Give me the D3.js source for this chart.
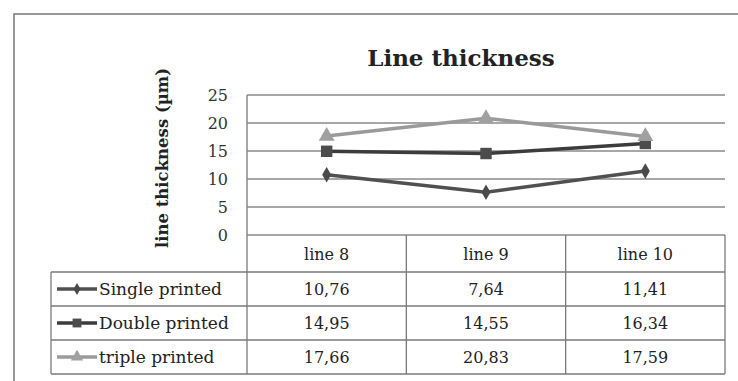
<!DOCTYPE html>
<html>
<head>
<meta charset="utf-8">
<script src="https://cdn.jsdelivr.net/npm/d3@7"></script>
<style>
  body { margin: 0; background: #fff; }
  svg { display: block; }
</style>
</head>
<body>
<svg width="738" height="381"></svg>
<script>
// line thickness chart with data table underneath
const categories = ["line 8", "line 9", "line 10"];
const seriesNames = ["Single printed", "Double printed", "triple printed"];
const singlePrinted = [10.76, 7.64, 11.41];
const doublePrinted = [14.95, 14.55, 16.34];
const triplePrinted = [17.66, 20.83, 17.59];
const yTicks = [0, 5, 10, 15, 20, 25];

const seriesValues = [singlePrinted, doublePrinted, triplePrinted];
const colors = ['#505050', '#3c3c3c', '#9a9a9a'];
const markerColors = ['#4a4a4a', '#4c4c4c', '#a0a0a0'];
const symbols = [d3.symbolDiamond, d3.symbolSquare, d3.symbolTriangle];
const symSizes = [70, 130, 110];

const font = "'DejaVu Serif', serif";
const svg = d3.select('svg');

// outer frame
svg.append('path')
    .attr('d', 'M14,381 V14 H738')
    .attr('fill', 'none')
    .attr('stroke', '#777')
    .attr('stroke-width', 1.5);

const plotL = 247, plotR = 725, plotT = 95, plotB = 235;
const rowH = 34, headH = 37, tableLeft = 51;

const x = d3.scaleBand().domain(categories).range([plotL, plotR]);
const y = d3.scaleLinear().domain([0, 25]).range([plotB, plotT]);

// title
svg.append('text')
    .attr('x', 461).attr('y', 66)
    .attr('text-anchor', 'middle')
    .attr('font-family', font)
    .attr('font-weight', 'bold')
    .attr('font-size', 23)
    .attr('fill', '#222')
    .text('Line thickness');

// y axis title
svg.append('text')
    .attr('transform', 'translate(168,158) rotate(-90)')
    .attr('text-anchor', 'middle')
    .attr('font-family', font)
    .attr('font-weight', 'bold')
    .attr('font-size', 16.5)
    .attr('fill', '#222')
    .text('line thickness (\u00b5m)');

// gridlines + tick labels
const yAxis = d3.axisLeft(y).tickValues(yTicks).tickSize(0).tickPadding(19);
const gy = svg.append('g')
    .attr('transform', `translate(${plotL},0)`)
    .call(yAxis);
gy.select('.domain').remove();
gy.selectAll('text')
    .attr('font-family', font)
    .attr('font-size', 16)
    .attr('fill', '#333');

svg.append('g').selectAll('line')
    .data(yTicks)
    .enter().append('line')
    .attr('x1', plotL).attr('x2', plotR)
    .attr('y1', d => y(d)).attr('y2', d => y(d))
    .attr('stroke', '#8a8a8a')
    .attr('stroke-width', 1.5);

svg.append('line')
    .attr('x1', plotL).attr('x2', plotL)
    .attr('y1', plotT).attr('y2', plotB)
    .attr('stroke', '#8a8a8a')
    .attr('stroke-width', 1.5);

// lines and markers
const line = d3.line()
    .x((d, i) => x(categories[i]) + x.bandwidth() / 2)
    .y(d => y(d));

seriesValues.forEach((vals, s) => {
    svg.append('path')
        .datum(vals)
        .attr('d', line)
        .attr('fill', 'none')
        .attr('stroke', colors[s])
        .attr('stroke-width', 3.5);
    svg.append('g').selectAll('path')
        .data(vals)
        .enter().append('path')
        .attr('d', d3.symbol().type(symbols[s]).size(symSizes[s]))
        .attr('transform', (d, i) => `translate(${x(categories[i]) + x.bandwidth() / 2},${y(d)})`)
        .attr('fill', markerColors[s]);
});

// data table
const tableBottom = plotB + headH + rowH * seriesNames.length;
const tg = svg.append('g');
const tStroke = '#7a7a7a';

// vertical lines
categories.forEach(c => {
    tg.append('line')
        .attr('x1', x(c)).attr('x2', x(c))
        .attr('y1', plotB).attr('y2', tableBottom)
        .attr('stroke', tStroke).attr('stroke-width', 1.3);
});
tg.append('line')
    .attr('x1', plotR).attr('x2', plotR)
    .attr('y1', plotB).attr('y2', tableBottom)
    .attr('stroke', tStroke).attr('stroke-width', 1.3);
tg.append('line')
    .attr('x1', tableLeft).attr('x2', tableLeft)
    .attr('y1', plotB + headH).attr('y2', tableBottom)
    .attr('stroke', tStroke).attr('stroke-width', 1.3);

// horizontal row lines
d3.range(seriesNames.length + 1).forEach(r => {
    const yy = plotB + headH + r * rowH;
    tg.append('line')
        .attr('x1', tableLeft).attr('x2', plotR)
        .attr('y1', yy).attr('y2', yy)
        .attr('stroke', tStroke).attr('stroke-width', 1.3);
});

// header text
tg.selectAll('.hdr')
    .data(categories)
    .enter().append('text')
    .attr('x', d => x(d) + x.bandwidth() / 2)
    .attr('y', plotB + headH / 2 + 6)
    .attr('text-anchor', 'middle')
    .attr('font-family', font)
    .attr('font-size', 16)
    .attr('fill', '#222')
    .text(d => d);

const fmt = d3.formatLocale({decimal: ',', thousands: '.', grouping: [3], currency: ['', '']}).format('.2f');

seriesNames.forEach((name, s) => {
    const cy = plotB + headH + s * rowH + rowH / 2;
    // legend key
    tg.append('line')
        .attr('x1', 57).attr('x2', 97)
        .attr('y1', cy).attr('y2', cy)
        .attr('stroke', colors[s]).attr('stroke-width', 3.5);
    tg.append('path')
        .attr('d', d3.symbol().type(symbols[s]).size(symSizes[s] * 0.6))
        .attr('transform', `translate(77,${cy})`)
        .attr('fill', markerColors[s]);
    tg.append('text')
        .attr('x', 99).attr('y', cy + 6)
        .attr('font-family', font)
        .attr('font-size', 17)
        .attr('fill', '#222')
        .text(name);
    tg.selectAll('.v' + s)
        .data(seriesValues[s])
        .enter().append('text')
        .attr('x', (d, i) => x(categories[i]) + x.bandwidth() / 2)
        .attr('y', cy + 6)
        .attr('text-anchor', 'middle')
        .attr('font-family', font)
        .attr('font-size', 16)
        .attr('fill', '#222')
        .text(d => fmt(d));
});
</script>
</body>
</html>
